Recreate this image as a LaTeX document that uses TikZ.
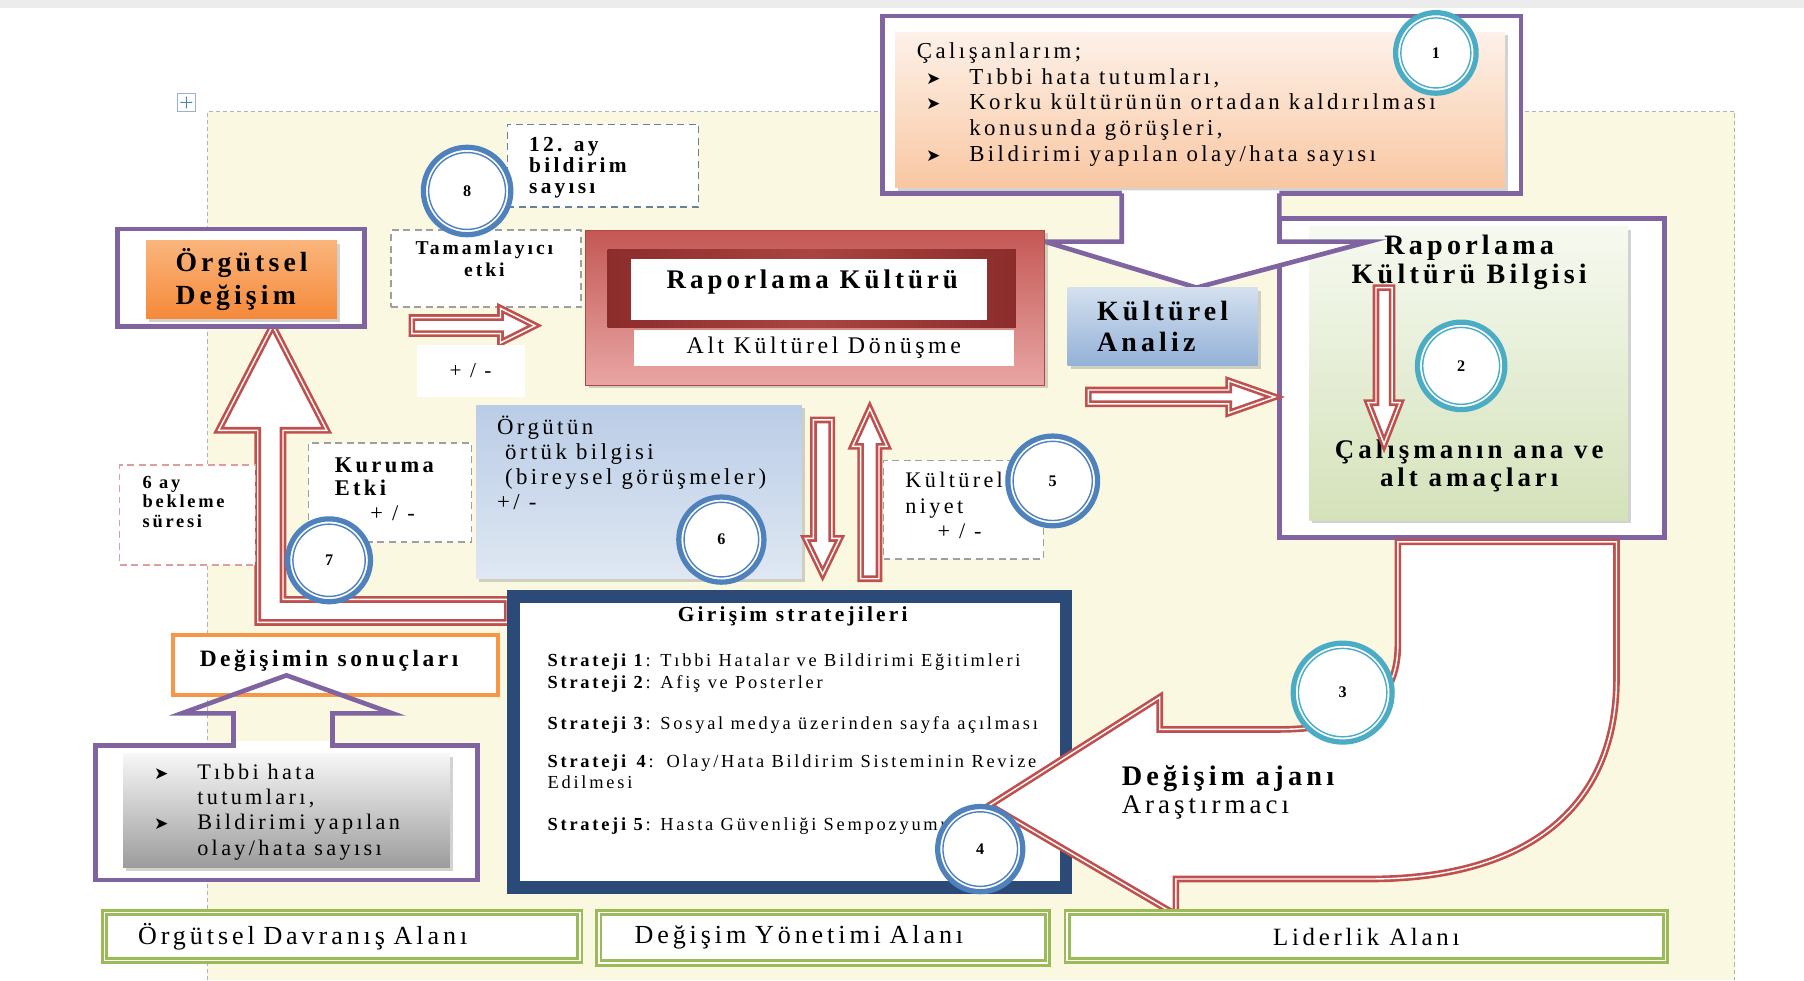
\documentclass[tikz,border=0pt]{standalone}
\usepackage{fontspec}
\setmainfont{Liberation Serif}[LetterSpace=15]
\newfontfamily\dingfont{DejaVu Sans}
\usetikzlibrary{shadows,arrows.meta}

\definecolor{purp}{HTML}{8064A2}
\definecolor{redA}{HTML}{C0504D}
\definecolor{redD}{HTML}{8C2D2B}
\definecolor{redM}{HTML}{A94442}
\definecolor{orgA}{HTML}{F79646}
\definecolor{grnA}{HTML}{9BBB59}
\definecolor{navy}{HTML}{2B4A78}
\definecolor{tealA}{HTML}{4BACC6}
\definecolor{blueA}{HTML}{4F81BD}
\definecolor{cream}{HTML}{FBF8E2}
\definecolor{cTop}{HTML}{FDF1E9}
\definecolor{cBot}{HTML}{F9C7A2}
\definecolor{gTop}{HTML}{F6F9F0}
\definecolor{gBot}{HTML}{D4E2BA}
\definecolor{odTop}{HTML}{FAB57C}
\definecolor{odBot}{HTML}{F5893A}
\definecolor{anTop}{HTML}{D4E0EF}
\definecolor{anBot}{HTML}{93B1D7}
\definecolor{oTop}{HTML}{BACCE6}
\definecolor{oBot}{HTML}{DFE8F3}
\definecolor{grTop}{HTML}{F7F7F7}
\definecolor{grBot}{HTML}{9C9C9C}
\definecolor{rkTop}{HTML}{C45855}
\definecolor{rkBot}{HTML}{E8A6A4}

\newcommand\arrbul{\makebox[0.75cm][l]{\dingfont\fontsize{8.5}{10}\selectfont ➤}}

\begin{document}
\begin{tikzpicture}[x=0.02cm,y=-0.02cm,
  every node/.style={inner sep=0pt,outer sep=0pt},
  purpbox/.style={draw=purp,line width=2.3pt,fill=white},
  dashbox/.style={draw=gray!75,dash pattern=on 3.4pt off 2.3pt,line width=0.7pt,fill=white},
  hollow/.style={draw=redA,line width=1.3pt,double=white,double distance=0.7pt,fill=white,line join=miter},
  areabox/.style={draw=grnA,line width=1.4pt,double=white,double distance=0.7pt,fill=white},
  boxshadow/.style={drop shadow={shadow xshift=1.5pt,shadow yshift=-1.5pt,opacity=0.35}},
  numring/.style 2 args={circle,minimum size=#2,draw=#1,line width=2.6pt,fill=white,
    font=\bfseries\fontsize{8}{8}\selectfont,
    path picture={\draw[#1,line width=0.7pt] (path picture bounding box.center) circle[radius=#2/2-2.6pt];}}]
\useasboundingbox (0,0) rectangle (1568,852);

% page and working area
\fill[white] (0,0) rectangle (1568,852);
\fill[gray!15] (0,0) rectangle (1568,7);
\fill[cream] (180,97) rectangle (1508,852);
\draw[gray!60,dash pattern=on 2pt off 1.5pt,line width=0.5pt] (180,852) -- (180,97) -- (1508,97) -- (1508,852);
\node[draw=blueA!60,fill=white,line width=0.4pt,minimum size=0.3cm] (mv) at (162,89) {};
\draw[blueA,line width=0.4pt,{Latex[length=1.2pt]}-{Latex[length=1.2pt]}] ([xshift=1pt]mv.west) -- ([xshift=-1pt]mv.east);
\draw[blueA,line width=0.4pt,{Latex[length=1.2pt]}-{Latex[length=1.2pt]}] ([yshift=-1pt]mv.north) -- ([yshift=1pt]mv.south);

% bent arrow to organisational change
\draw[hollow] (441,521) -- (246,521) -- (246,374) -- (284,374) -- (237,283) -- (190,374) -- (224,374) -- (224,541) -- (441,541) -- cycle;

% 1: staff survey
\node[purpbox,minimum width=11.1cm,minimum height=3.08cm] (calloutbox) at (1044.5,91) {};
\node[top color=cTop,bottom color=cBot,boxshadow,minimum width=10.6cm,minimum height=2.7cm] (callout) at (1043,95.5) {};
\node[anchor=north west,align=left,font=\fontsize{11.3}{12.7}\selectfont] (calltext) at (797,37)
  {Çalışanlarım;\\
   \hspace*{0.16cm}\arrbul Tıbbi hata tutumları,\\
   \hspace*{0.16cm}\arrbul Korku kültürünün ortadan kaldırılması\\
   \hspace*{0.91cm}konusunda görüşleri,\\
   \hspace*{0.16cm}\arrbul Bildirimi yapılan olay/hata sayısı};

% 2: knowledge box
\node[purpbox,minimum width=6.7cm,minimum height=5.54cm] (bilgibox) at (1279.5,328.5) {};
\node[top color=gTop,bottom color=gBot,boxshadow,minimum width=5.54cm,minimum height=5.1cm] (bilgi) at (1276.5,324.5) {};

% callout arrow
\fill[white] (975,165.5) -- (975,210) -- (908,210) -- (1040,250) -- (1190,210) -- (1112,210) -- (1112,165.5) -- cycle;
\draw[purp,line width=2.3pt,line join=miter] (975,168) -- (975,210) -- (908,210) -- (1040,250) -- (1190,210) -- (1112,210) -- (1112,168);

\node[align=center,font=\bfseries\fontsize{13.9}{14.7}\selectfont] (bilgititle) at (1277,228) {Raporlama\\Kültürü Bilgisi};
\node[align=center,font=\bfseries\fontsize{13.3}{13.6}\selectfont] (amac) at (1277,405) {Çalışmanın ana ve\\alt amaçları};
\draw[hollow] (1196,250) -- (1210,250) -- (1210,350) -- (1217,350) -- (1203,386) -- (1189,350) -- (1196,350) -- cycle;

% reporting culture
\node[draw=redA!90!black,line width=0.6pt,top color=rkTop,bottom color=rkBot,boxshadow,minimum width=7.98cm,minimum height=2.7cm] (rk) at (708.5,267.5) {};
\node[left color=redD,right color=redD,middle color=redM,minimum width=7.1cm,minimum height=1.36cm] (rkband) at (705.5,251) {};
\node[fill=white,minimum width=6.2cm,minimum height=1.06cm] (rkwhite) at (703,251.5) {};
\node[font=\bfseries\fontsize{13.3}{14}\selectfont] (rktitle) at (706,245) {Raporlama Kültürü};
\node[fill=white,minimum width=6.6cm,minimum height=0.62cm,font=\fontsize{11.8}{13}\selectfont] (rksub) at (716,302.5) {Alt Kültürel Dönüşme};

\node[top color=anTop,bottom color=anBot,boxshadow,minimum width=3.3cm,minimum height=1.36cm,align=left,font=\bfseries\fontsize{13.8}{15.3}\selectfont] (analiz) at (1010.5,284) {Kültürel\\Analiz};
\draw[hollow] (946,339) -- (1068,339) -- (1068,331) -- (1108,345) -- (1068,359) -- (1068,351) -- (946,351) -- cycle;

% organisational change
\node[purpbox,minimum width=4.3cm,minimum height=1.7cm] (odbox) at (209.5,241.5) {};
\node[top color=odTop,bottom color=odBot,boxshadow,minimum width=3.32cm,minimum height=1.36cm,align=left,font=\bfseries\fontsize{13.7}{15.9}\selectfont] (od) at (210,243) {Örgütsel\\Değişim};

\node[dashbox,draw=blueA!50!gray,minimum width=3.32cm,minimum height=1.44cm] (ay12box) at (524,144) {};
\node[anchor=north west,align=left,font=\bfseries\fontsize{10.6}{10.6}\selectfont] (ay12) at (460,119) {12. ay\\bildirim\\sayısı};
\node[dashbox,minimum width=3.3cm,minimum height=1.34cm] (tambox) at (422.5,233.5) {};
\node[align=center,font=\bfseries\fontsize{9.7}{10.8}\selectfont] (tam) at (421,225) {Tamamlayıcı\\etki};
\draw[hollow] (358,276) -- (435,276) -- (435,268) -- (465,283) -- (435,298) -- (435,290) -- (358,290) -- cycle;
\node[fill=white,minimum width=1.88cm,minimum height=0.9cm,font=\fontsize{10.5}{12}\selectfont] (pm1) at (409,322.5) {+ / -};

% tacit knowledge and intention
\node[top color=oTop,bottom color=oBot,boxshadow,minimum width=5.66cm,minimum height=3.02cm] (ortuk) at (555.5,427.5) {};
\node[anchor=north west,align=left,font=\fontsize{11.3}{12.3}\selectfont] (ortuktext) at (432,362)
  {Örgütün\\\hspace*{0.14cm}örtük bilgisi\\\hspace*{0.14cm}(bireysel görüşmeler)\\+/ -};
\draw[hollow] (707,365) -- (723,365) -- (723,468) -- (730,468) -- (715,499) -- (700,468) -- (707,468) -- cycle;
\draw[hollow] (748,503) -- (764,503) -- (764,388) -- (771,388) -- (756,355) -- (741,388) -- (748,388) -- cycle;
\node[dashbox,minimum width=2.78cm,minimum height=1.72cm] (niyetbox) at (837.5,443) {};
\node[anchor=north west,align=left,font=\fontsize{11}{12.8}\selectfont] (niyet) at (787,410) {Kültürel\\niyet\\\hspace*{0.56cm}+ / -};

\node[dashbox,draw=redA!55,minimum width=2.36cm,minimum height=1.74cm] (bekbox) at (163,447.5) {};
\node[anchor=north west,align=left,font=\bfseries\fontsize{9.1}{9.6}\selectfont] (bek) at (124,414) {6 ay\\bekleme\\süresi};
\node[dashbox,minimum width=2.84cm,minimum height=1.72cm] (kurbox) at (339,428) {};
\node[anchor=north west,align=left,font=\bfseries\fontsize{11.1}{11.3}\selectfont] (kur) at (291,398) {Kuruma\\Etki\\[1pt]\hspace*{0.62cm}{\mdseries + / -}};

% results of change
\node[draw=orgA,line width=2pt,fill=white,minimum width=5.66cm,minimum height=1.04cm] (sonucbox) at (291.5,578) {};
\node[font=\bfseries\fontsize{11.6}{13}\selectfont] (sonuc) at (286,574) {Değişimin sonuçları};
\node[purpbox,minimum width=6.64cm,minimum height=2.34cm] (olcumbox) at (249,706.5) {};
\fill[white] (205,644) rectangle (287,652);
\node[top color=grTop,bottom color=grBot,boxshadow,minimum width=5.68cm,minimum height=1.98cm] (olcum) at (249,704.5) {};
\node[anchor=north west,align=left,font=\fontsize{11}{12.5}\selectfont] (olcumtext) at (134,664)
  {\arrbul Tıbbi hata\\\hspace*{0.75cm}tutumları,\\\arrbul Bildirimi yapılan\\\hspace*{0.75cm}olay/hata sayısı};
\draw[purp,line width=2.3pt,line join=miter] (203,650) -- (203,620) -- (158,620) -- (249,587) -- (341,620) -- (289,620) -- (289,650);

% strategies
\node[draw=navy,line width=6.2pt,fill=white,boxshadow,minimum width=9.6cm,minimum height=5.06cm] (girisim) at (686.5,645) {};
\node[font=\bfseries\fontsize{10.6}{12}\selectfont] (giristitle) at (689,536) {Girişim stratejileri};
\node[anchor=north west,align=left,font=\fontsize{9.1}{10.8}\selectfont] (strat) at (476,568)
  {\textbf{Strateji 1}: Tıbbi Hatalar ve Bildirimi Eğitimleri\\
   \textbf{Strateji 2}: Afiş ve Posterler\\[9.6pt]
   \textbf{Strateji 3}: Sosyal medya üzerinden sayfa açılması\\[7.9pt]
   \textbf{Strateji \,4}: \,Olay/Hata Bildirim Sisteminin Revize\\
   Edilmesi\\[9.6pt]
   \textbf{Strateji 5}: Hasta Güvenliği Sempozyumu};

% 3: change agent
\draw[hollow] (1215,471) -- (1215,560) .. controls (1215,612) and (1180,634) .. (1110,634) -- (1008,634) -- (1008,606)
  -- (860,700) -- (1022,795) -- (1022,764) -- (1190,764) .. controls (1330,764) and (1405,700) .. (1405,590) -- (1405,471) -- cycle;
\node[anchor=north west,align=left,font=\fontsize{13.3}{14.2}\selectfont] (ajan) at (975,665) {{\bfseries\fontsize{14}{14.2}\selectfont Değişim ajanı}\\Araştırmacı};

% areas
\node[areabox,minimum width=8.26cm,minimum height=0.84cm,text width=7.1cm,inner xsep=0.58cm,align=left,font=\fontsize{12.9}{14}\selectfont] (alan1) at (297.5,814) {Örgütsel Davranış Alanı};
\node[areabox,minimum width=7.8cm,minimum height=0.88cm,text width=6.56cm,inner xsep=0.62cm,align=left,font=\fontsize{12.9}{14}\selectfont] (alan2) at (715.5,815) {Değişim Yönetimi Alanı};
\node[areabox,minimum width=10.4cm,minimum height=0.84cm,font=\fontsize{12.3}{14}\selectfont] (alan3) at (1187.5,814) {Liderlik Alanı};

% step numbers
\node[numring={tealA}{1.4cm}] (1) at (1248,46) {1};
\node[numring={tealA}{1.52cm}] (2) at (1270,318) {2};
\node[numring={tealA}{1.72cm}] (3) at (1167,602) {3};
\node[numring={blueA}{1.48cm}] (4) at (852,738) {4};
\node[numring={blueA}{1.56cm}] (5) at (915,418) {5};
\node[numring={blueA}{1.48cm}] (6) at (627,469) {6};
\node[numring={blueA}{1.44cm}] (7) at (286,487) {7};
\node[numring={blueA}{1.52cm}] (8) at (406,166) {8};
\end{tikzpicture}
\end{document}
